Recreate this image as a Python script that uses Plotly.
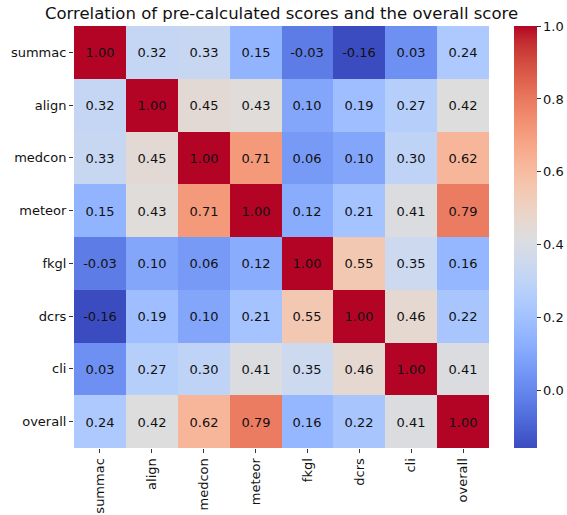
import plotly.graph_objects as go

labels = ["summac", "align", "medcon", "meteor", "fkgl", "dcrs", "cli", "overall"]

summac = [1.00, 0.32, 0.33, 0.15, -0.03, -0.16, 0.03, 0.24]
align = [0.32, 1.00, 0.45, 0.43, 0.10, 0.19, 0.27, 0.42]
medcon = [0.33, 0.45, 1.00, 0.71, 0.06, 0.10, 0.30, 0.62]
meteor = [0.15, 0.43, 0.71, 1.00, 0.12, 0.21, 0.41, 0.79]
fkgl = [-0.03, 0.10, 0.06, 0.12, 1.00, 0.55, 0.35, 0.16]
dcrs = [-0.16, 0.19, 0.10, 0.21, 0.55, 1.00, 0.46, 0.22]
cli = [0.03, 0.27, 0.30, 0.41, 0.35, 0.46, 1.00, 0.41]
overall = [0.24, 0.42, 0.62, 0.79, 0.16, 0.22, 0.41, 1.00]

z = [summac, align, medcon, meteor, fkgl, dcrs, cli, overall]
text = [["{:.2f}".format(v) for v in row] for row in z]

cw = [
    (59, 76, 192), (68, 90, 204), (77, 104, 215), (87, 117, 225), (98, 130, 234),
    (108, 142, 241), (119, 154, 247), (130, 165, 251), (141, 176, 254), (152, 185, 255),
    (163, 194, 255), (174, 201, 253), (184, 208, 249), (194, 213, 244), (204, 217, 238),
    (213, 219, 230), (221, 221, 221), (229, 216, 209), (236, 211, 197), (241, 204, 185),
    (245, 196, 173), (247, 187, 160), (247, 177, 148), (247, 166, 135), (244, 154, 123),
    (241, 141, 111), (236, 127, 99), (229, 112, 88), (222, 96, 77), (213, 80, 66),
    (203, 62, 56), (192, 40, 47), (180, 4, 38),
]
colorscale = [[i / (len(cw) - 1), "rgb(%d,%d,%d)" % c] for i, c in enumerate(cw)]

W, H = 567, 515
L, R, T, B = 74, 489, 26, 448
CB_X = 514

fig = go.Figure(go.Heatmap(
    z=z, x=labels, y=labels,
    text=text, texttemplate="%{text}",
    textfont=dict(family="DejaVu Sans", size=13, color="#111111"),
    colorscale=colorscale, zmin=-0.157, zmax=1.0,
    xgap=0, ygap=0,
    colorbar=dict(
        x=(CB_X - L) / (R - L), xanchor="left", xpad=0,
        y=0.5, yanchor="middle", ypad=0,
        lenmode="fraction", len=1.0,
        thickness=23, outlinewidth=0,
        tickvals=[0.0, 0.2, 0.4, 0.6, 0.8, 1.0],
        ticktext=["0.0", "0.2", "0.4", "0.6", "0.8", "1.0"],
        ticks="outside", ticklen=4, tickcolor="#333",
        tickfont=dict(family="DejaVu Sans", size=13, color="#111111"),
    ),
))

fig.update_layout(
    width=W, height=H,
    margin=dict(l=L, r=W - R, t=T, b=H - B, pad=0, autoexpand=False),
    paper_bgcolor="white", plot_bgcolor="white",
    font=dict(family="DejaVu Sans", size=13, color="#111111"),
    title=dict(text="Correlation of pre-calculated scores and the overall score",
               x=0.5, xref="paper", xanchor="center",
               y=1 - 13 / H, yanchor="middle", yref="container",
               font=dict(family="DejaVu Sans", size=16.5, color="#111111")),
    xaxis=dict(tickangle=-90, ticks="outside", ticklen=4, tickcolor="#333",
               showgrid=False, zeroline=False, showline=False,
               tickfont=dict(size=13)),
    yaxis=dict(autorange="reversed", ticks="outside", ticklen=4, tickcolor="#333",
               showgrid=False, zeroline=False, showline=False,
               tickfont=dict(size=13)),
)

fig.write_html("out.html", config={"displayModeBar": False},
               post_script="document.body.style.margin='0px';document.body.style.overflow='hidden';")
